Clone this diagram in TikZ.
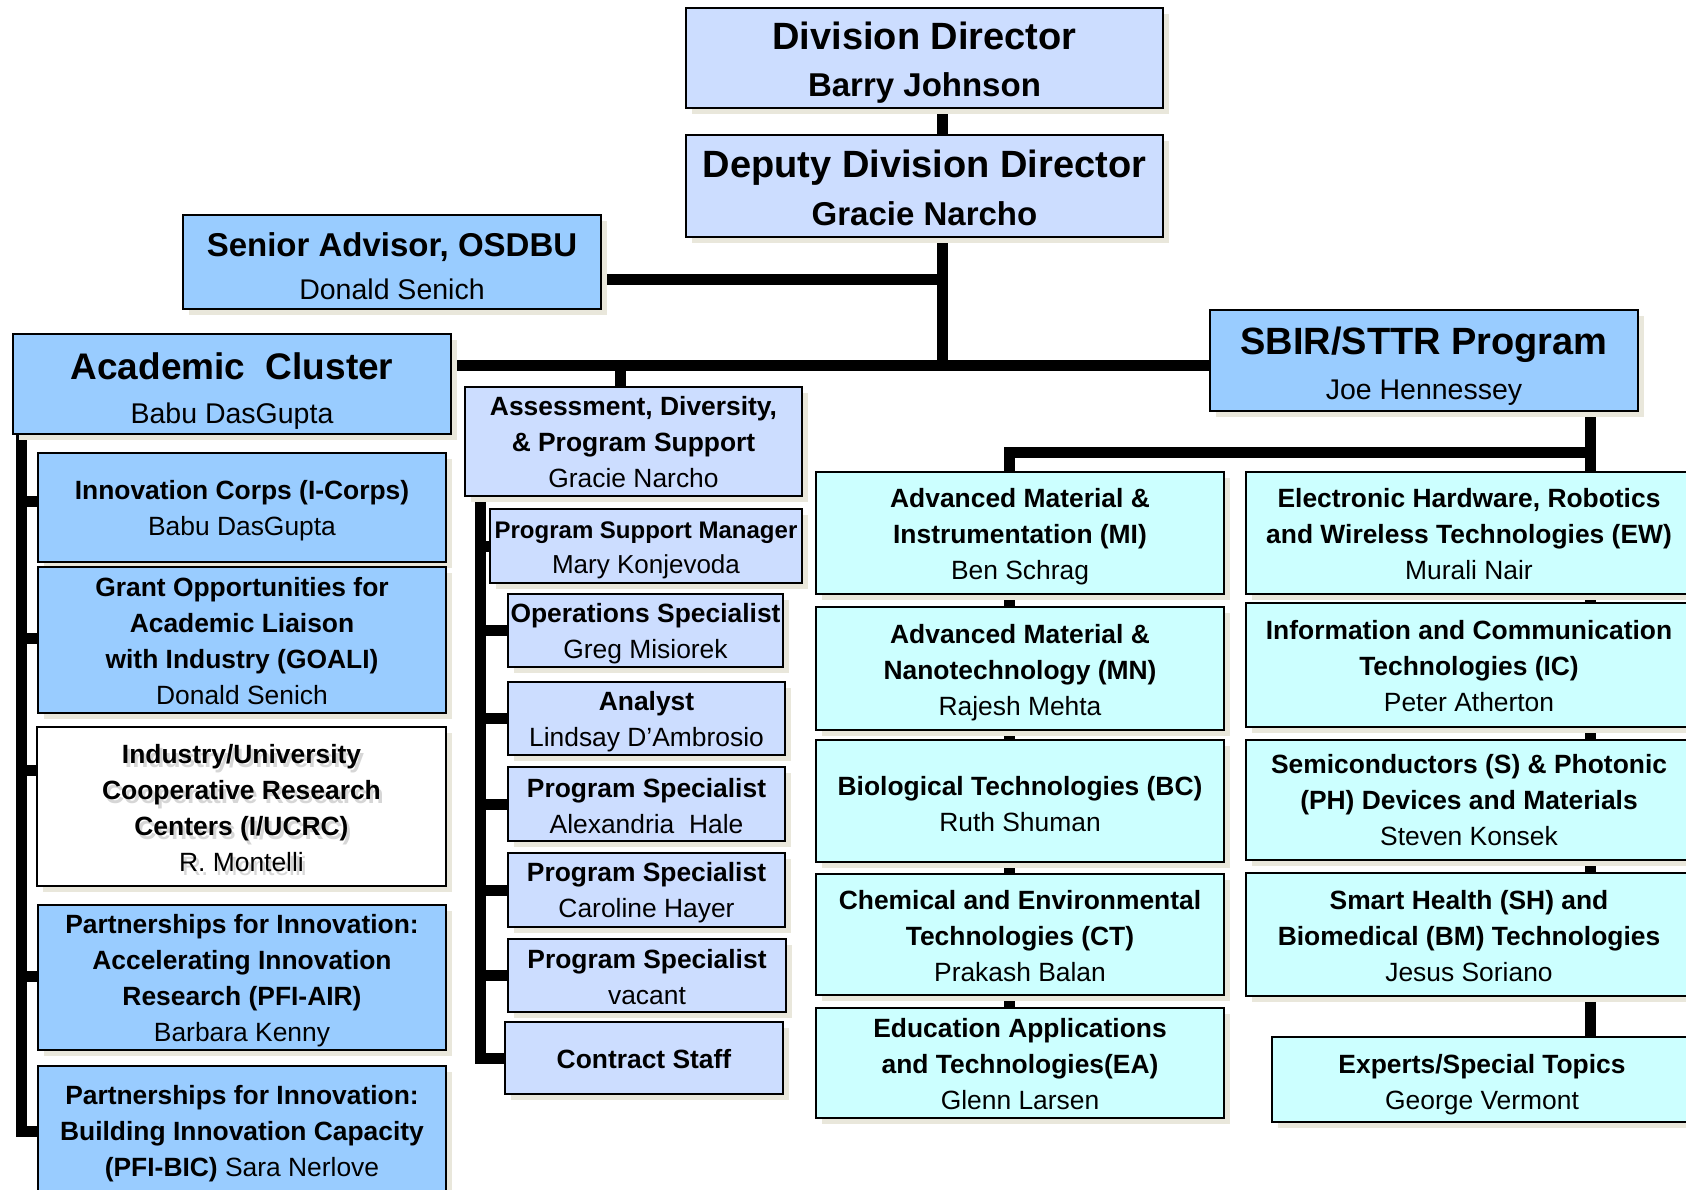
\documentclass[tikz,border=0pt]{standalone}
\usepackage{fontspec}
\setmainfont{Liberation Sans}
\usetikzlibrary{shadows,calc}
\pgfdeclarelayer{bg}
\pgfsetlayers{bg,main}
\definecolor{peri}{HTML}{CCDDFF}
\definecolor{skyb}{HTML}{99CCFF}
\definecolor{cyanl}{HTML}{CCFFFF}
\definecolor{shad}{HTML}{E9E7DB}
\definecolor{ghost}{HTML}{D6D6D6}
\tikzset{
  orgbox/.style={draw=black, line width=2.5pt, inner sep=0pt,
    general shadow={fill=shad, shadow xshift=6pt, shadow yshift=-6pt}},
  peribox/.style={orgbox, fill=peri},
  bluebox/.style={orgbox, fill=skyb},
  cyanbox/.style={orgbox, fill=cyanl},
  whitebox/.style={orgbox, fill=white},
  smalltxt/.style={font=\fontsize{26.4}{36}\selectfont\bfseries},
  conn/.style={line width=11pt, draw=black},
}
\newcommand{\pn}[1]{{\mdseries #1}}
% name, x1, y1, x2, y2, box style, text style, text shift down, text
\newcommand{\orgnode}[9]{%
  \node[#6, minimum width={(#4)-(#2)}, minimum height={(#5)-(#3)}] (#1) at ({((#2)+(#4))/2},{((#3)+(#5))/2}) {};
  \node[align=center, inner sep=0pt, #7] (#1t) at ($(#1.center)+(0,#8)$) {#9};}
\begin{document}
\begin{tikzpicture}[x=1pt,y=-1pt]
\useasboundingbox (0,0) rectangle (1686,1190);
% top
\orgnode{dd}{686}{8}{1163}{108}{peribox}{font=\fontsize{33}{47}\selectfont\bfseries}{5}{{\fontsize{38}{47}\selectfont Division Director}\\Barry Johnson}
\orgnode{ddd}{686}{135}{1163}{237}{peribox}{font=\fontsize{33}{48}\selectfont\bfseries}{1.5}{{\fontsize{38}{48}\selectfont Deputy Division Director}\\Gracie Narcho}
\orgnode{sa}{183}{215}{601}{309}{bluebox}{font=\fontsize{28.5}{43}\selectfont}{4}{{\fontsize{33}{43}\selectfont\bfseries Senior Advisor, OSDBU}\\Donald Senich}
\orgnode{ac}{13}{334}{451}{434}{bluebox}{font=\fontsize{28.5}{44}\selectfont}{7}{{\fontsize{37}{44}\selectfont\bfseries Academic\ \ Cluster}\\Babu DasGupta}
\orgnode{sbir}{1210}{310}{1638}{411}{bluebox}{font=\fontsize{28.5}{45}\selectfont}{6}{{\fontsize{38}{45}\selectfont\bfseries SBIR/STTR Program}\\Joe Hennessey}
% middle column
\orgnode{adps}{465}{387}{802}{496}{peribox}{smalltxt}{1}{Assessment, Diversity,\\\& Program Support\\\pn{Gracie Narcho}}
\orgnode{psm}{490}{509}{802}{583}{peribox}{font=\fontsize{24}{35}\selectfont\bfseries}{4}{Program Support Manager\\\pn{\fontsize{26}{35}\selectfont Mary Konjevoda}}
\orgnode{ops}{508}{594}{783}{667}{peribox}{smalltxt}{3}{Operations Specialist\\\pn{Greg Misiorek}}
\orgnode{ana}{508}{682}{785}{755}{peribox}{smalltxt}{3.5}{Analyst\\\pn{Lindsay D’Ambrosio}}
\orgnode{ps1}{508}{767}{785}{841}{peribox}{smalltxt}{2}{Program Specialist\\\pn{Alexandria\ \ Hale}}
\orgnode{ps2}{508}{853}{785}{927}{peribox}{smalltxt}{3}{Program Specialist\\\pn{Caroline Hayer}}
\orgnode{ps3}{508}{939}{786}{1012}{peribox}{smalltxt}{2}{Program Specialist\\\pn{vacant}}
\orgnode{cs}{505}{1022}{783}{1094}{peribox}{smalltxt}{1}{Contract Staff}
% academic column
\orgnode{icorps}{38}{453}{446}{562}{bluebox}{smalltxt}{3}{Innovation Corps (I-Corps)\\\pn{Babu DasGupta}}
\orgnode{goali}{38}{567}{446}{713}{bluebox}{smalltxt}{1}{Grant Opportunities for\\Academic Liaison\\with Industry (GOALI)\\\pn{Donald Senich}}
\orgnode{iucrc}{37}{727}{446}{886}{whitebox}{smalltxt, text=ghost, xshift=3pt, yshift=-4pt}{2}{Industry/University\\Cooperative Research\\Centers (I/UCRC)\\\pn{R. Montelli}}
\node[smalltxt, align=center, inner sep=0pt] (iucrcm) at ($(iucrc.center)+(0,2)$) {Industry/University\\Cooperative Research\\Centers (I/UCRC)\\\pn{R. Montelli}};
\orgnode{pfiair}{38}{905}{446}{1050}{bluebox}{smalltxt}{3}{Partnerships for Innovation:\\Accelerating Innovation\\Research (PFI-AIR)\\\pn{Barbara Kenny}}
\orgnode{pfibic}{38}{1066}{446}{1196}{bluebox}{smalltxt}{3}{Partnerships for Innovation:\\Building Innovation Capacity\\(PFI-BIC) \pn{Sara Nerlove}}
% right columns
\orgnode{mi}{816}{472}{1224}{594}{cyanbox}{smalltxt}{4}{Advanced Material \&\\Instrumentation (MI)\\\pn{Ben Schrag}}
\orgnode{mn}{816}{607}{1224}{730}{cyanbox}{smalltxt}{4}{Advanced Material \&\\Nanotechnology (MN)\\\pn{Rajesh Mehta}}
\orgnode{bc}{816}{740}{1224}{862}{cyanbox}{smalltxt}{3}{Biological Technologies (BC)\\\pn{Ruth Shuman}}
\orgnode{ct}{816}{874}{1224}{995}{cyanbox}{smalltxt}{2}{Chemical and Environmental\\Technologies (CT)\\\pn{Prakash Balan}}
\orgnode{ea}{816}{1008}{1224}{1118}{cyanbox}{smalltxt}{1}{Education Applications\\and Technologies(EA)\\\pn{Glenn Larsen}}
\orgnode{ew}{1246}{472}{1692}{594}{cyanbox}{smalltxt}{1}{Electronic Hardware, Robotics\\and Wireless Technologies (EW)\\\pn{Murali Nair}}
\orgnode{ic}{1246}{603}{1692}{727}{cyanbox}{smalltxt}{1}{Information and Communication\\Technologies (IC)\\\pn{Peter Atherton}}
\orgnode{sph}{1246}{740}{1692}{860}{cyanbox}{smalltxt}{0.5}{Semiconductors (S) \& Photonic\\(PH) Devices and Materials\\\pn{Steven Konsek}}
\orgnode{sh}{1246}{873}{1692}{996}{cyanbox}{smalltxt}{2}{Smart Health (SH) and\\Biomedical (BM) Technologies\\\pn{Jesus Soriano}}
\orgnode{exp}{1272}{1037}{1692}{1122}{cyanbox}{smalltxt}{5}{Experts/Special Topics\\\pn{George Vermont}}
% connectors
\begin{pgfonlayer}{bg}
\fill[white] (0,0) rectangle (1686,1190);
\coordinate (jn) at (942,365);
\coordinate (saj) at (942,280);
\coordinate (adj) at (620,365);
\draw[conn] (dd.south -| jn) -- (ddd.north -| jn);
\draw[conn] (ddd.south -| jn) -- (jn);
\draw[conn] (sa.east |- saj) -- (saj);
\draw[conn] (ac.east |- jn) -- (sbir.west |- jn);
\draw[conn] (adj) -- (adps.north -| adj);
% academic spine
\coordinate (lsp) at (21,434);
\draw[conn] (lsp) |- (pfibic.west);
\draw[conn] (lsp |- 0,501) -- (icorps.west |- 0,501);
\draw[conn] (lsp |- 0,638) -- (goali.west |- 0,638);
\draw[conn] (lsp |- 0,770) -- (iucrc.west |- 0,770);
\draw[conn] (lsp |- 0,976) -- (pfiair.west |- 0,976);
% middle spine
\coordinate (msp) at (480,500);
\draw[conn] (msp) |- (cs.west);
\foreach \n in {psm,ops,ana,ps1,ps2,ps3} \draw[conn] (msp |- \n.west) -- (\n.west);
% SBIR
\coordinate (rj) at (1590,452);
\coordinate (lj) at (1009,452);
\draw[conn] (sbir.south -| rj) -- (ew.north -| rj);
\draw[conn] (rj) -- (lj) -- (mi.north -| lj);
\foreach \a/\b in {mi/mn,mn/bc,bc/ct,ct/ea} \draw[conn] (\a.south -| lj) -- (\b.north -| lj);
\foreach \a/\b in {ew/ic,ic/sph,sph/sh,sh/exp} \draw[conn] (\a.south -| rj) -- (\b.north -| rj);
\end{pgfonlayer}
\end{tikzpicture}
\end{document}
